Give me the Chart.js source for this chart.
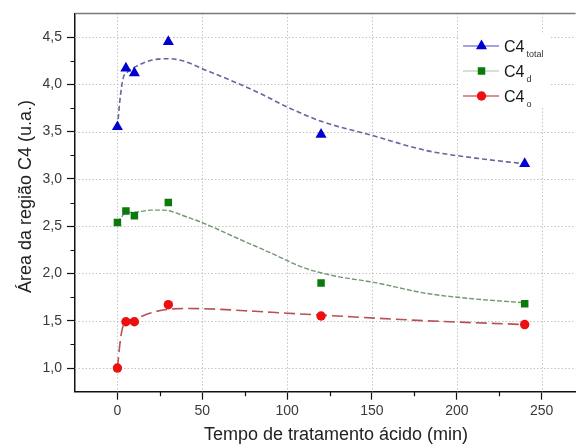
<!DOCTYPE html>
<html>
<head>
<meta charset="utf-8">
<script src="https://cdn.jsdelivr.net/npm/chart.js@4.4.1/dist/chart.umd.min.js"></script>
<style>
  html, body { margin: 0; padding: 0; background: #ffffff; }
  canvas { display: block; }
</style>
</head>
<body>
<canvas id="chart" width="582" height="444"></canvas>
<script>
// Measured C4 areas (u.a.) against acid-treatment time (min)
const times = [0, 5, 10, 30, 120, 240];
const c4Total = [3.55, 4.17, 4.12, 4.45, 3.47, 3.16];
const c4D = [2.54, 2.66, 2.61, 2.75, 1.90, 1.68];
const c4O = [1.00, 1.49, 1.49, 1.67, 1.55, 1.46];

// Fitted trend curves (time, area)
const fitTotalX = [0, 1.7, 3.3, 6, 11, 19, 26.5, 31.5, 40, 52, 67, 84.5, 100, 120, 150, 182, 211, 240];
const fitTotalY = [3.55, 3.87, 4.06, 4.13, 4.19, 4.25, 4.27, 4.27, 4.24, 4.15, 4.04, 3.90, 3.76, 3.61, 3.46, 3.30, 3.22, 3.16];
const fitDX = [0, 5, 11, 20, 27, 42, 51, 71, 90, 110, 129, 150, 182, 211, 240];
const fitDY = [2.54, 2.64, 2.65, 2.67, 2.67, 2.59, 2.53, 2.37, 2.22, 2.06, 1.97, 1.91, 1.79, 1.73, 1.69];
const fitOX = [0, 2, 4, 10, 19, 29, 42, 61, 81, 100, 120, 182, 240];
const fitOY = [1.00, 1.33, 1.47, 1.52, 1.58, 1.62, 1.63, 1.62, 1.60, 1.58, 1.56, 1.50, 1.46];

// Axis ticks
const xTicks = [0, 50, 100, 150, 200, 250];
const xMinorTicks = [25, 75, 125, 175, 225];
const yTicks = [1.0, 1.5, 2.0, 2.5, 3.0, 3.5, 4.0, 4.5];
const yMinorTicks = [1.25, 1.75, 2.25, 2.75, 3.25, 3.75, 4.25];

// Legend labels: main text and subscript
const legendMain = ['C4', 'C4', 'C4'];
const legendSub = ['total', 'd', 'o'];

const FONT = "'Liberation Sans', Arial, sans-serif";
const pairs = (xs, ys) => xs.map((x, i) => ({ x: x, y: ys[i] }));

const markerStyles = [
  { style: 'triangle', color: '#0000d0', radius: 6.4, line: '#8585d8' },
  { style: 'rect', color: '#0a7a0a', radius: 5.3, line: '#c4d8c4' },
  { style: 'circle', color: '#ee1010', radius: 4.7, line: '#d46a6a' }
];

const datasets = [
  {
    label: 'C4 total', data: pairs(times, c4Total), order: 1,
    pointStyle: 'triangle', pointRadius: 6.4, pointBackgroundColor: '#0000d0',
    pointBorderColor: '#0000d0', pointBorderWidth: 0, showLine: false
  },
  {
    label: 'C4 d', data: pairs(times, c4D), order: 1,
    pointStyle: 'rect', pointRadius: 5.3, pointBackgroundColor: '#0a7a0a',
    pointBorderColor: '#0a7a0a', pointBorderWidth: 0, showLine: false
  },
  {
    label: 'C4 o', data: pairs(times, c4O), order: 1,
    pointStyle: 'circle', pointRadius: 4.7, pointBackgroundColor: '#ee1010',
    pointBorderColor: '#ee1010', pointBorderWidth: 0, showLine: false
  },
  {
    label: 'fit total', data: pairs(fitTotalX, fitTotalY), order: 2,
    showLine: true, pointRadius: 0, borderColor: '#66669c', borderWidth: 1.6,
    borderDash: [5, 3], cubicInterpolationMode: 'monotone', fill: false
  },
  {
    label: 'fit d', data: pairs(fitDX, fitDY), order: 2,
    showLine: true, pointRadius: 0, borderColor: '#749674', borderWidth: 1.4,
    borderDash: [5, 2], cubicInterpolationMode: 'monotone', fill: false
  },
  {
    label: 'fit o', data: pairs(fitOX, fitOY), order: 2,
    showLine: true, pointRadius: 0, borderColor: '#b65252', borderWidth: 1.6,
    borderDash: [11, 5], cubicInterpolationMode: 'monotone', fill: false
  }
];

function drawMarker(ctx, style, x, y, r, color) {
  ctx.fillStyle = color;
  ctx.beginPath();
  if (style === 'triangle') {
    ctx.moveTo(x, y - r);
    ctx.lineTo(x + r * Math.cos(Math.PI / 6), y + r / 2);
    ctx.lineTo(x - r * Math.cos(Math.PI / 6), y + r / 2);
    ctx.closePath();
  } else if (style === 'rect') {
    const s = r * Math.SQRT1_2;
    ctx.rect(x - s, y - s, 2 * s, 2 * s);
  } else {
    ctx.arc(x, y, r, 0, Math.PI * 2);
  }
  ctx.fill();
}

const decorations = {
  id: 'decorations',
  beforeDatasetsDraw(chart) {
    // dotted grid at the labelled ticks
    const ctx = chart.ctx;
    const area = chart.chartArea;
    const xs = chart.scales.x;
    const ys = chart.scales.y;
    ctx.save();
    ctx.strokeStyle = '#c4c4c4';
    ctx.lineWidth = 1;
    ctx.setLineDash([1.5, 2]);
    ctx.beginPath();
    xTicks.forEach(v => {
      const px = Math.round(xs.getPixelForValue(v)) + 0.5;
      ctx.moveTo(px, area.top);
      ctx.lineTo(px, area.bottom);
    });
    yTicks.forEach(v => {
      const py = Math.round(ys.getPixelForValue(v)) + 0.5;
      ctx.moveTo(area.left, py);
      ctx.lineTo(area.right, py);
    });
    ctx.stroke();
    ctx.restore();
  },
  afterDatasetsDraw(chart) {
    const ctx = chart.ctx;
    ctx.save();
    // legend box
    ctx.fillStyle = '#ffffff';
    ctx.fillRect(460, 34, 90, 74);
    const rowY = [46, 71, 96];
    for (let i = 0; i < 3; i++) {
      const m = markerStyles[i];
      const y = rowY[i];
      ctx.strokeStyle = m.line;
      ctx.lineWidth = 1.3;
      ctx.setLineDash([]);
      ctx.beginPath();
      ctx.moveTo(463, y);
      ctx.lineTo(499, y);
      ctx.stroke();
      drawMarker(ctx, m.style, 481.5, y, m.radius, m.color);
      ctx.fillStyle = '#1a1a1a';
      ctx.textAlign = 'left';
      ctx.textBaseline = 'alphabetic';
      ctx.font = '16px ' + FONT;
      ctx.fillText(legendMain[i], 504, y + 6);
      const w = ctx.measureText(legendMain[i]).width;
      ctx.font = '9px ' + FONT;
      ctx.fillStyle = '#333333';
      ctx.fillText(legendSub[i], 504 + w + 2, y + 11);
    }
    ctx.restore();
  },
  afterDraw(chart) {
    const ctx = chart.ctx;
    const area = chart.chartArea;
    const xs = chart.scales.x;
    const ys = chart.scales.y;
    ctx.save();
    ctx.setLineDash([]);
    // top frame
    ctx.strokeStyle = '#7a7a7a';
    ctx.lineWidth = 1.5;
    ctx.beginPath();
    ctx.moveTo(area.left, area.top);
    ctx.lineTo(area.right, area.top);
    ctx.stroke();
    // minor ticks
    ctx.strokeStyle = '#111111';
    ctx.lineWidth = 1.2;
    ctx.beginPath();
    xMinorTicks.forEach(v => {
      const px = Math.round(xs.getPixelForValue(v)) + 0.5;
      ctx.moveTo(px, area.bottom);
      ctx.lineTo(px, area.bottom + 4.5);
    });
    yMinorTicks.forEach(v => {
      const py = Math.round(ys.getPixelForValue(v)) + 0.5;
      ctx.moveTo(area.left, py);
      ctx.lineTo(area.left - 4.5, py);
    });
    ctx.stroke();
    // axis titles
    ctx.fillStyle = '#222222';
    ctx.font = '18px ' + FONT;
    ctx.textAlign = 'center';
    ctx.textBaseline = 'alphabetic';
    ctx.fillText('Tempo de tratamento ácido (min)', 336, 440);
    ctx.translate(31, 196.5);
    ctx.rotate(-Math.PI / 2);
    ctx.fillText('Área da região C4 (u.a.)', 0, 0);
    ctx.restore();
  }
};

const axisGrid = {
  drawOnChartArea: false,
  drawTicks: true,
  color: '#111111',
  tickColor: '#111111',
  tickWidth: 1.2,
  tickLength: 8
};

new Chart(document.getElementById('chart'), {
  type: 'scatter',
  data: { datasets: datasets },
  options: {
    responsive: false,
    devicePixelRatio: 1,
    animation: false,
    layout: { padding: { top: 13, right: 0, bottom: 0, left: 0 } },
    plugins: {
      legend: { display: false },
      tooltip: { enabled: false }
    },
    scales: {
      x: {
        type: 'linear',
        min: -25,
        max: 270,
        afterBuildTicks: scale => { scale.ticks = xTicks.map(v => ({ value: v })); },
        afterFit: scale => { scale.height = 52.3; },
        grid: axisGrid,
        border: { display: true, color: '#111111', width: 1.5 },
        ticks: {
          autoSkip: false,
          padding: 3,
          color: '#3a3a3a',
          font: { family: FONT, size: 14 },
          maxRotation: 0,
          callback: v => String(v)
        }
      },
      y: {
        type: 'linear',
        min: 0.75,
        max: 4.75,
        afterBuildTicks: scale => { scale.ticks = yTicks.map(v => ({ value: v })); },
        afterFit: scale => { scale.width = 75; },
        grid: axisGrid,
        border: { display: true, color: '#111111', width: 1.5 },
        ticks: {
          autoSkip: false,
          padding: 5,
          color: '#3a3a3a',
          font: { family: FONT, size: 14 },
          callback: v => Number(v).toFixed(1).replace('.', ',')
        }
      }
    }
  },
  plugins: [decorations]
});
</script>
</body>
</html>
